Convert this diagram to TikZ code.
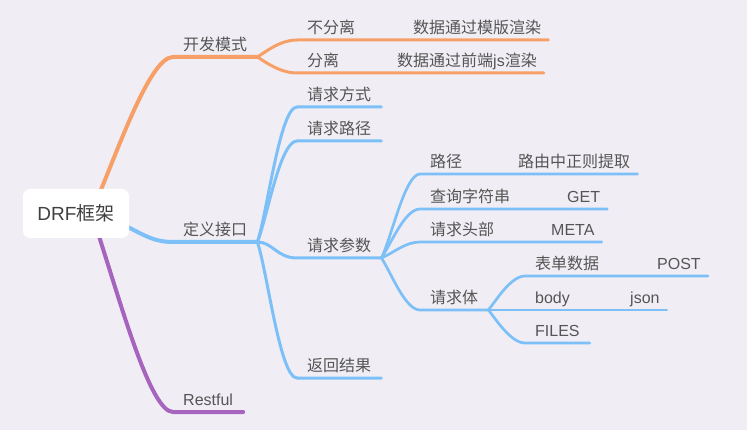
\documentclass[tikz,border=0pt]{standalone}
\usepackage{fontspec}
\setmainfont{Liberation Sans}
\newfontfamily\cjk{Noto Sans CJK SC}
\usetikzlibrary{calc}
\pgfdeclarelayer{bg}
\pgfdeclarelayer{lines}
\pgfsetlayers{bg,lines,main}
\definecolor{bgcol}{HTML}{F0EEF4}
\definecolor{ocol}{HTML}{F6A068}
\definecolor{bcol}{HTML}{7DC0F8}
\definecolor{pcol}{HTML}{A664BE}
\definecolor{txtcol}{HTML}{555555}
\tikzset{
  rootbox/.style={fill=white, rounded corners=7pt, minimum width=106pt, minimum height=49pt,
    inner sep=0pt, text=black!75, font=\fontsize{19}{22}\selectfont},
  topic/.style={anchor=south west, text depth=0pt, inner xsep=10pt, inner ysep=6.5pt,
    text=txtcol, font=\fontsize{16}{18}\selectfont},
  leaf/.style={topic, inner xsep=7pt},
  omain/.style={draw=ocol, line width=4pt, line cap=round},
  obr/.style={draw=ocol, line width=3pt, line cap=round},
  bmain/.style={draw=bcol, line width=4pt, line cap=round},
  bbr/.style={draw=bcol, line width=3pt, line cap=round},
  bsub/.style={draw=bcol, line width=2.7pt, line cap=round},
  pmain/.style={draw=pcol, line width=4pt, line cap=round}
}
\begin{document}
\begin{tikzpicture}[x=1pt, y=-1pt]
    % background
    \begin{pgfonlayer}{bg}
    \fill[bgcol] (0,0) rectangle (747,430);
    \end{pgfonlayer}
    \useasboundingbox (0,0) rectangle (747,430);

    % root
    \node[rootbox] (root) at (76,213.5) {DRF{\cjk 框架}};

    % main topics
    \node[topic] (kf) at (173,57) {\cjk 开发模式};
    \node[topic] (dy) at (173,242) {\cjk 定义接口};
    \node[topic] (rf) at (173,412) {Restful};

    % 开发模式
    \node[topic] (bfl) at (297,40) {\cjk 不分离};
    \node[leaf] (mbxr) at (406,40) {\cjk 数据通过模版渲染};
    \node[topic] (fl) at (297,73) {\cjk 分离};
    \node[leaf] (qdxr) at (390,73) {{\cjk 数据通过前端}js{\cjk 渲染}};

    % 定义接口
    \node[topic] (qqfs) at (297,107) {\cjk 请求方式};
    \node[topic] (qqlj) at (297,141) {\cjk 请求路径};
    \node[topic] (qqcs) at (297,258) {\cjk 请求参数};
    \node[topic] (fhjg) at (297,378) {\cjk 返回结果};

    % 请求参数
    \node[topic] (lj) at (420,174) {\cjk 路径};
    \node[leaf] (zzqt) at (511,174) {\cjk 路由中正则提取};
    \node[topic] (cxzfc) at (420,209) {\cjk 查询字符串};
    \node[leaf] (get) at (560,209) {GET};
    \node[topic] (qqtb) at (420,242) {\cjk 请求头部};
    \node[leaf] (meta) at (544,242) {META};
    \node[topic] (qqt) at (420,310) {\cjk 请求体};

    % 请求体
    \node[topic] (bdsj) at (525,276) {\cjk 表单数据};
    \node[leaf] (post) at (650,276) {POST};
    \node[topic] (body) at (525,310) {body};
    \node[leaf] (json) at (623,310) {json};
    \node[topic] (files) at (525,343) {FILES};

    \begin{pgfonlayer}{lines}
    % from root
    \draw[omain] ($(root.north)+(22,8)$) .. controls (118,150) and (150,57) .. (kf.south west) -- (kf.south east);
    \draw[bmain] ($(root.center)+(34,4.5)$) .. controls (140,232) and (150,242) .. (dy.south west) -- (dy.south east);
    \draw[pmain] ($(root.south)+(21,-8)$) .. controls (120,300) and (150,412) .. (rf.south west) -- (rf.south east);

    % 开发模式 branches
    \draw[obr] (kf.south east) .. controls +(8,-5) and +(-17,0) .. (bfl.south west) -- (bfl.south east) -- (mbxr.south west) -- (mbxr.south east);
    \draw[obr] (kf.south east) .. controls +(8,5) and +(-17,0) .. (fl.south west) -- (fl.south east) -- (qdxr.south west) -- (qdxr.south east);

    % 定义接口 branches
    \draw[bbr] (dy.south east) .. controls +(10,-30) and +(-17,0) .. (qqfs.south west) -- (qqfs.south east);
    \draw[bbr] (dy.south east) .. controls +(10,-25) and +(-17,0) .. (qqlj.south west) -- (qqlj.south east);
    \draw[bbr] (dy.south east) .. controls +(15,0) and +(-20,0) .. (qqcs.south west) -- (qqcs.south east);
    \draw[bbr] (dy.south east) .. controls +(10,30) and +(-17,0) .. (fhjg.south west) -- (fhjg.south east);

    % 请求参数 branches
    \draw[bsub] (qqcs.south east) .. controls +(10,-20) and +(-15,0) .. (lj.south west) -- (lj.south east) -- (zzqt.south west) -- (zzqt.south east);
    \draw[bsub] (qqcs.south east) .. controls +(10,-15) and +(-15,0) .. (cxzfc.south west) -- (cxzfc.south east) -- (get.south west) -- (get.south east);
    \draw[bsub] (qqcs.south east) .. controls +(12,-5) and +(-15,0) .. (qqtb.south west) -- (qqtb.south east) -- (meta.south west) -- (meta.south east);
    \draw[bsub] (qqcs.south east) .. controls +(10,15) and +(-15,0) .. (qqt.south west) -- (qqt.south east);

    % 请求体 branches
    \draw[bsub] (qqt.south east) .. controls +(8,-10) and +(-14,0) .. (bdsj.south west) -- (bdsj.south east) -- (post.south west) -- (post.south east);
    \draw[bsub] (qqt.south east) -- (body.south west) -- (body.south east) -- (json.south west) -- (json.south east);
    \draw[bsub] (qqt.south east) .. controls +(8,10) and +(-14,0) .. (files.south west) -- (files.south east);
    \end{pgfonlayer}
\end{tikzpicture}
\end{document}
